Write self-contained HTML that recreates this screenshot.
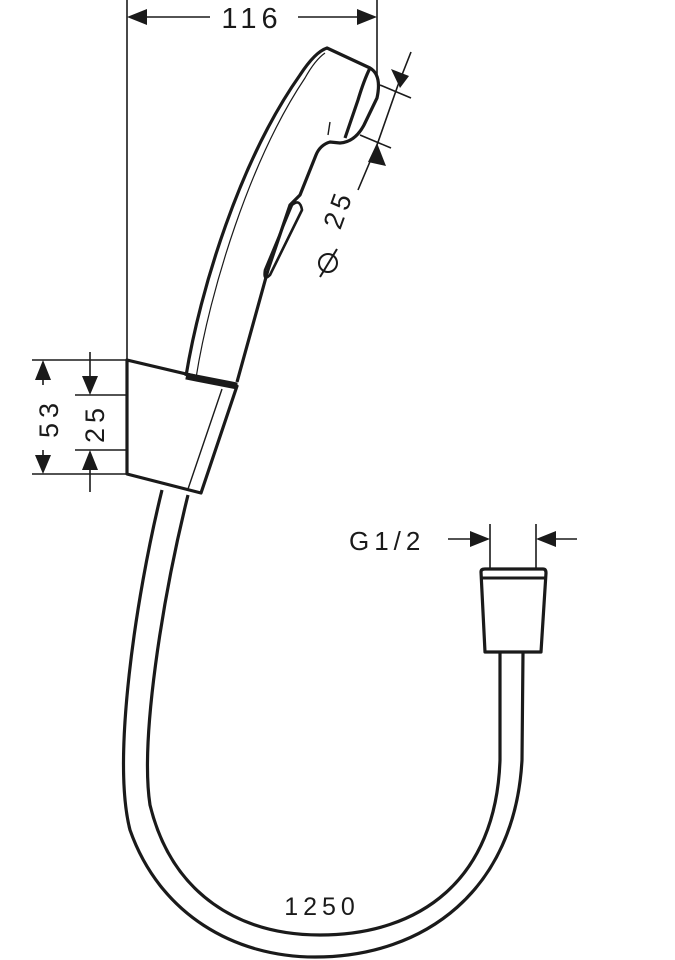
<!DOCTYPE html>
<html><head><meta charset="utf-8"><style>html,body{margin:0;padding:0;background:#fff}svg{display:block}</style></head>
<body>
<svg width="675" height="960" viewBox="0 0 675 960" xmlns="http://www.w3.org/2000/svg" fill="none" stroke="#1a1a1a" font-family="Liberation Sans, sans-serif">
<!-- 116 dimension -->
<g stroke-width="1.6">
<line x1="127" y1="0" x2="127" y2="360"/>
<line x1="377" y1="0" x2="377" y2="75"/>
<line x1="145" y1="17" x2="210" y2="17"/>
<line x1="298" y1="17" x2="360" y2="17"/>
</g>
<polygon points="127,17 147,9 147,25" fill="#1a1a1a" stroke="none"/>
<polygon points="377,17 357,9 357,25" fill="#1a1a1a" stroke="none"/>
<text x="252" y="28" font-size="29" text-anchor="middle" fill="#1a1a1a" stroke="none" letter-spacing="5">116</text>

<!-- handle -->
<g stroke-width="3.2" stroke-linejoin="round">
<path d="M186,376 C200,290 240,160 300,75 Q315,52 327,48 L370,68 Q382,75 377,98 L364,125 Q355,142 340,143 L330,142 Q320,145 316,155 L300,195 L290,205 L268,270 L237,382"/>
<path d="M370,68 Q364,80 358,100 L345,138"/>
<path d="M292,205 Q300,198 302,210 L270,275 Q263,282 265,270 Z" stroke-width="2.6"/>
</g>
<path d="M196,378 C210,290 250,160 305,78 Q315,60 325,53" stroke-width="1.2"/>
<line x1="330" y1="122" x2="328" y2="135" stroke-width="1.4"/>
<!-- holder -->
<polygon points="127,360 237,386 201,493 127,474" stroke-width="3.2" stroke-linejoin="round"/>
<path d="M186,376 L237,386" stroke-width="7"/>
<line x1="222" y1="389" x2="188" y2="489" stroke-width="1.4"/>

<!-- hose -->
<g stroke-width="3.2">
<path d="M162,490 C135,600 112,760 130,830 C160,915 235,957 315,957 C425,957 515,890 522,760 L523,652"/>
<path d="M188,495 C162,600 140,740 150,805 C172,895 240,935 320,935 C420,935 496,880 500,760 L500,652"/>
</g>
<text x="322" y="915" font-size="25" text-anchor="middle" fill="#1a1a1a" stroke="none" letter-spacing="5">1250</text>

<!-- connector -->
<path d="M481,572 Q481,569 485,569 L543,569 Q546,569 546,573 L541,652 L485,652 Z" stroke-width="3.2" stroke-linejoin="round"/>
<line x1="482" y1="578" x2="545" y2="578" stroke-width="3"/>
<g stroke-width="1.6">
<line x1="490" y1="524" x2="490" y2="569"/>
<line x1="536" y1="524" x2="536" y2="569"/>
<line x1="448" y1="539" x2="472" y2="539"/>
<line x1="554" y1="539" x2="577" y2="539"/>
</g>
<polygon points="490,539 470,531 470,547" fill="#1a1a1a" stroke="none"/>
<polygon points="536,539 556,531 556,547" fill="#1a1a1a" stroke="none"/>
<text x="349" y="550" font-size="26" fill="#1a1a1a" stroke="none" letter-spacing="5">G1/2</text>

<!-- 53 / 25 -->
<g stroke-width="1.6">
<line x1="32" y1="360" x2="127" y2="360"/>
<line x1="32" y1="474" x2="127" y2="474"/>
<line x1="75" y1="395" x2="127" y2="395"/>
<line x1="75" y1="450" x2="127" y2="450"/>
<line x1="43" y1="380" x2="43" y2="385"/>
<line x1="43" y1="450" x2="43" y2="455"/>
<line x1="90" y1="352" x2="90" y2="376"/>
<line x1="90" y1="470" x2="90" y2="492"/>
</g>
<polygon points="43,360 35,380 51,380" fill="#1a1a1a" stroke="none"/>
<polygon points="43,474 35,455 51,455" fill="#1a1a1a" stroke="none"/>
<polygon points="90,395 82,376 98,376" fill="#1a1a1a" stroke="none"/>
<polygon points="90,450 82,470 98,470" fill="#1a1a1a" stroke="none"/>
<text transform="translate(58,418) rotate(-90)" font-size="27" text-anchor="middle" fill="#1a1a1a" stroke="none" letter-spacing="5">53</text>
<text transform="translate(104,423) rotate(-90)" font-size="27" text-anchor="middle" fill="#1a1a1a" stroke="none" letter-spacing="5">25</text>

<!-- diameter 25 -->
<g stroke-width="1.6">
<line x1="380" y1="85" x2="411" y2="98"/>
<line x1="360" y1="135" x2="391" y2="148"/>
<line x1="411" y1="52" x2="398" y2="85"/>
<line x1="377" y1="145" x2="358" y2="190"/>
<line x1="398" y1="85" x2="377" y2="145"/>
</g>
<polygon points="400,88 391,69 409,76" fill="#1a1a1a" stroke="none"/>
<polygon points="377,143 368,162 386,166" fill="#1a1a1a" stroke="none"/>
<text transform="translate(347,212) rotate(-70)" font-size="27" text-anchor="middle" fill="#1a1a1a" stroke="none" letter-spacing="5">25</text>
<circle cx="328" cy="263" r="9" stroke-width="2"/>
<line x1="320" y1="277" x2="337" y2="249" stroke-width="2"/>
</svg>
</body></html>
